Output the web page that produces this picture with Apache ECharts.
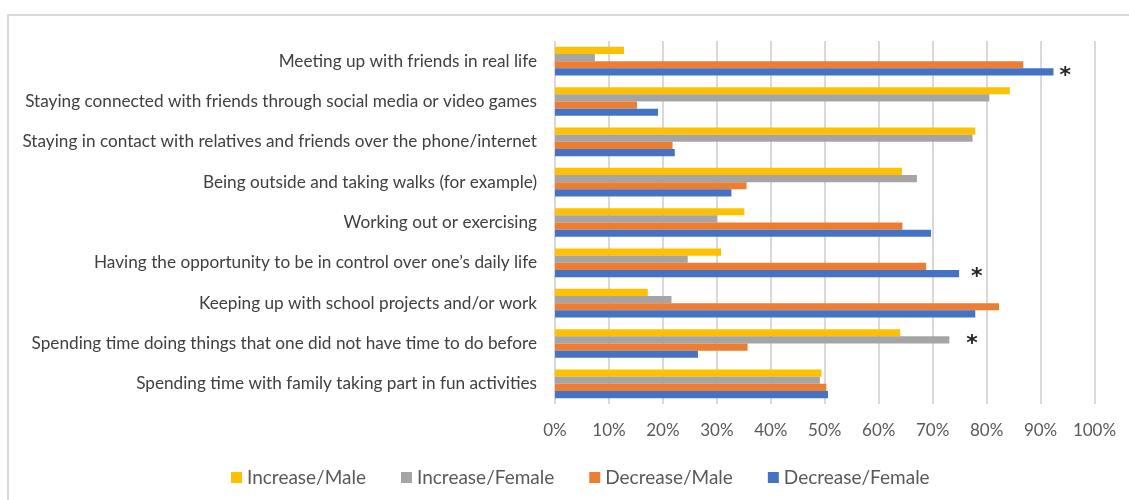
<!DOCTYPE html>
<html>
<head>
<meta charset="utf-8">
<script src="https://cdn.jsdelivr.net/npm/echarts@6/dist/echarts.min.js"></script>
<style>
  html, body { margin: 0; padding: 0; background: #ffffff; }
  #chart { width: 1129px; height: 500px; }
</style>
</head>
<body>
<div id="chart"></div>
<script>
// Activities, listed top to bottom
const categories = [
  'Meeting up with friends in real life',
  'Staying connected with friends through social media or video games',
  'Staying in contact with relatives and friends over the phone/internet',
  'Being outside and taking walks (for example)',
  'Working out or exercising',
  'Having the opportunity to be in control over one\u2019s daily life',
  'Keeping up with school projects and/or work',
  'Spending time doing things that one did not have time to do before',
  'Spending time with family taking part in fun activities'
];

// Share of respondents (%) per group
const increaseMale   = [12.8, 84.3, 77.9, 64.3, 35.1, 30.8, 17.2, 64.0, 49.4];
const increaseFemale = [7.4, 80.5, 77.4, 67.1, 30.0, 24.6, 21.6, 73.1, 49.1];
const decreaseMale   = [86.8, 15.2, 21.8, 35.5, 64.4, 68.8, 82.3, 35.7, 50.3];
const decreaseFemale = [92.4, 19.1, 22.2, 32.7, 69.7, 74.9, 77.9, 26.5, 50.6];

const seriesNames = ['Increase/Male', 'Increase/Female', 'Decrease/Male', 'Decrease/Female'];
const xTickLabels = ['0%', '10%', '20%', '30%', '40%', '50%', '60%', '70%', '80%', '90%', '100%'];

// Significant gender differences, flagged with an asterisk
const significant = [
  { series: 'Decrease/Female', index: 0 },
  { series: 'Decrease/Female', index: 5 },
  { series: 'Increase/Female', index: 7 }
];

const colors = ['#FFC000', '#A5A5A5', '#ED7D31', '#4472C4'];
const starGap = { 0: 6, 5: 12, 7: 17 };

const font = 'Lato, "Open Sans", sans-serif';

function buildData(name, values) {
  return values.map((v, i) => {
    const flagged = significant.some(s => s.series === name && s.index === i);
    if (!flagged) return v;
    return {
      value: v,
      label: {
        show: true,
        position: 'right',
        distance: starGap[i],
        formatter: '*',
        fontSize: 22,
        fontWeight: 'bold',
        fontFamily: '"DejaVu Sans", sans-serif',
        color: '#262626',
        offset: [0, 4]
      }
    };
  });
}

const allValues = [increaseMale, increaseFemale, decreaseMale, decreaseFemale];

const chart = echarts.init(document.getElementById('chart'));
chart.setOption({
  animation: false,
  color: colors,
  textStyle: { fontFamily: font },
  graphic: [{
    type: 'rect',
    shape: { x: 8, y: 15, width: 1140, height: 500 },
    style: { fill: 'none', stroke: '#d9d9d9', lineWidth: 2 },
    silent: true,
    z: -1
  }],
  grid: {
    left: 555, right: 34.5, top: 41, height: 363,
    containLabel: false,
    outerBoundsMode: 'none'
  },
  xAxis: {
    type: 'value',
    min: 0,
    max: 100,
    interval: 10,
    axisLine: { show: false },
    axisTick: { show: false },
    splitLine: { lineStyle: { color: '#d9d9d9', width: 2 } },
    axisLabel: {
      formatter: v => xTickLabels[Math.round(v / 10)],
      color: '#595959',
      fontSize: 17,
      fontFamily: font,
      margin: 18
    }
  },
  yAxis: {
    type: 'category',
    data: categories,
    inverse: true,
    axisLine: { show: false },
    axisTick: { show: false },
    axisLabel: {
      color: '#404040',
      fontSize: 17.2,
      fontFamily: font,
      margin: 18
    }
  },
  legend: {
    top: 463,
    left: 226,
    itemWidth: 11,
    itemHeight: 11,
    itemGap: 35,
    icon: 'rect',
    textStyle: { color: '#595959', fontSize: 19, fontFamily: font },
    data: seriesNames
  },
  series: seriesNames.map((name, k) => ({
    name: name,
    type: 'bar',
    barGap: '0%',
    barCategoryGap: '29%',
    data: buildData(name, allValues[k])
  }))
});
</script>
</body>
</html>
